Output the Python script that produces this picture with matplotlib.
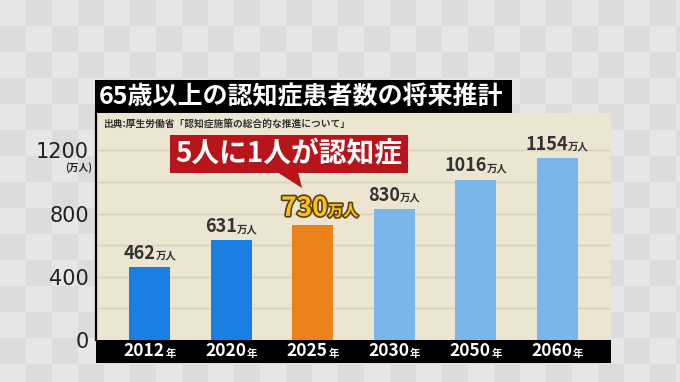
import numpy as np
import matplotlib
matplotlib.use("Agg")
import matplotlib.pyplot as plt
from matplotlib.offsetbox import TextArea, HPacker, AnnotationBbox
import matplotlib.patheffects as pe
from matplotlib.patches import Rectangle, Polygon

plt.rcParams['font.family'] = ['Noto Sans CJK JP', 'DejaVu Sans']

# ---- data ----
years = ['2012', '2020', '2025', '2030', '2050', '2060']
values = [462, 631, 730, 830, 1016, 1154]
bar_colors = ['#1a7fe2', '#1a7fe2', '#ea8219', '#79b6ea', '#79b6ea', '#79b6ea']
yticks = [0, 400, 800, 1200]
title = '65歳以上の認知症患者数の将来推計'
source = '出典:厚生労働省「認知症施策の総合的な推進について」'
callout = '5人に1人が認知症'
unit = '万人'

W, H = 680, 382
def fx(x): return x / W
def fy(y): return 1 - y / H

fig = plt.figure(figsize=(W / 100, H / 100), dpi=100)

# checkerboard backdrop
yy, xx = np.indices((H, W))
chk = ((xx // 26 + yy // 26) % 2)[..., None]
img = np.where(chk == 1, np.array([0.865, 0.865, 0.865]), np.array([0.905, 0.905, 0.905]))
fig.figimage(img, 0, 0, zorder=-5)

# title box
fig.add_artist(Rectangle((fx(95), fy(113)), (512 - 95) / W, 33 / H,
                         transform=fig.transFigure, fc='black', ec='none', zorder=2))
fig.text(fx(99), fy(97), title, color='white', fontsize=18, fontweight='bold',
         ha='left', va='center', zorder=3)

# main axes
ax = fig.add_axes([fx(96), fy(340), (611 - 96) / W, (340 - 113) / H])
ax.set_zorder(1)
ax.set_facecolor('#ebe5d2')
x = np.arange(len(years))
ax.bar(x, values, width=0.5, color=bar_colors, zorder=3)
ax.set_xlim(-0.66, 5.66)
ymax = 1437
ax.set_ylim(0, ymax)
ax.set_yticks(yticks)
ax.set_yticklabels([str(t) for t in yticks], family='DejaVu Sans')
ax.set_yticks([200, 600, 1000], minor=True)
ax.grid(axis='y', which='both', color='#d6ceb6', linewidth=1, zorder=1)
ax.set_xticks([])
ax.tick_params(axis='y', which='both', length=0, pad=5, labelsize=15, labelcolor='#222222')
for s in ['top', 'right', 'bottom']:
    ax.spines[s].set_visible(False)
ax.spines['left'].set_color('black')
ax.spines['left'].set_linewidth(1.6)

# source text
ax.text(0.013, 0.95, source, transform=ax.transAxes, fontsize=7, fontweight='bold',
        color='#333333', ha='left', va='center', zorder=4)

# unit under 1200
ax.annotate('(万人)', xy=(0, yticks[-1]), xycoords=('axes fraction', 'data'),
            xytext=(-3, -12), textcoords='offset points', ha='right', va='center',
            fontsize=7, fontweight='bold', color='#222222', annotation_clip=False)

# black band with year labels
band_h = 23 / (340 - 113)
ax.add_patch(Rectangle((0, -band_h), 1, band_h, transform=ax.transAxes, fc='black',
                       ec='none', clip_on=False, zorder=6))
for i, yr in enumerate(years):
    box = HPacker(children=[
        TextArea(yr, textprops=dict(color='white', fontsize=12.5, fontweight='bold')),
        TextArea('年', textprops=dict(color='white', fontsize=7.5, fontweight='bold'))],
        align='baseline', pad=0, sep=0.5)
    ab = AnnotationBbox(box, (i, -band_h / 2), xycoords=('data', 'axes fraction'),
                        box_alignment=(0.5, 0.5), frameon=False, annotation_clip=False,
                        zorder=7)
    ax.add_artist(ab)

# value labels
for i, v in enumerate(values):
    if years[i] == '2025':
        stroke = [pe.withStroke(linewidth=2.4, foreground='#5e3f0c')]
        kids = [TextArea(str(v), textprops=dict(color='#f7c21e', fontsize=19, fontweight='bold',
                                                path_effects=stroke)),
                TextArea(unit, textprops=dict(color='#f7c21e', fontsize=11, fontweight='bold',
                                              path_effects=stroke))]
        off, dx = 2, 5
    else:
        kids = [TextArea(str(v), textprops=dict(color='#333333', fontsize=13, fontweight='bold')),
                TextArea(unit, textprops=dict(color='#333333', fontsize=7.5, fontweight='bold'))]
        off, dx = 3, 0
    box = HPacker(children=kids, align='baseline', pad=0, sep=0)
    ab = AnnotationBbox(box, (i, v), xybox=(dx, off), boxcoords='offset points',
                        box_alignment=(0.5, 0), frameon=False, annotation_clip=False, zorder=5)
    ax.add_artist(ab)

# callout
red = '#b8141b'
fig.add_artist(Rectangle((fx(170), fy(173)), (408 - 170) / W, (173 - 135) / H,
                         transform=fig.transFigure, fc=red, ec='none', zorder=10))
fig.add_artist(Polygon([(fx(277), fy(172)), (fx(298), fy(172)), (fx(302), fy(188))],
                       closed=True, transform=fig.transFigure, fc=red, ec='none', zorder=10))
fig.text(fx(289), fy(154), callout, color='white', fontsize=20, fontweight='bold',
         ha='center', va='center', zorder=11)

fig.savefig('out.png', dpi=100)
